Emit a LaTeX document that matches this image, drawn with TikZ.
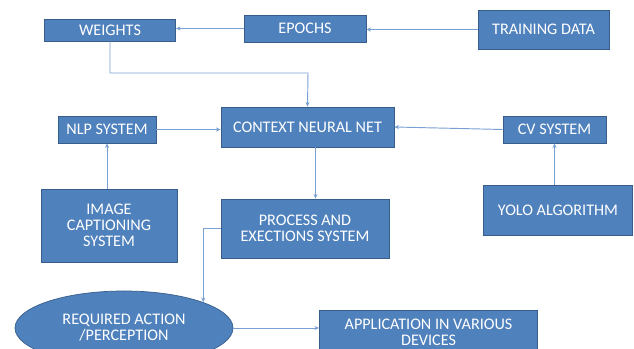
\documentclass[tikz,border=0pt]{standalone}
\usepackage{fontspec}
\setmainfont{Carlito}
\usepackage{xcolor}
\definecolor{boxfill}{HTML}{4F81BD}
\definecolor{boxline}{HTML}{385D8A}
\definecolor{linkblue}{HTML}{79A0D3}
\usetikzlibrary{shapes.geometric, arrows.meta, positioning}

\begin{document}
\begin{tikzpicture}[
        x=0.03cm, y=-0.03cm,
        block/.style={
            rectangle,
            draw=boxline,
            line width=0.6pt,
            fill=boxfill,
            text=white,
            align=center,
            inner sep=0pt,
            font=\fontsize{13.8}{13.6}\selectfont
        },
        oval/.style={
            block,
            ellipse
        },
        link/.style={
            -{Stealth[length=4pt, width=3.5pt]},
            draw=linkblue,
            line width=0.8pt
        }
    ]

    \useasboundingbox (0,0) rectangle (634,349);

    % Nodes
    \node[block, minimum width=3.93cm, minimum height=0.66cm] (weights) at (110,30) {WEIGHTS};
    \node[block, minimum width=3.66cm, minimum height=0.81cm] (epochs) at (305,28.5) {EPOCHS};
    \node[block, minimum width=3.93cm, minimum height=1.17cm] (train) at (543.5,29.5) {TRAINING DATA};
    \node[block, minimum width=5.19cm, minimum height=1.2cm] (context) at (307.5,127) {CONTEXT NEURAL NET};
    \node[block, minimum width=2.94cm, minimum height=0.81cm] (nlp) at (107,129.5) {NLP SYSTEM};
    \node[block, minimum width=3.09cm, minimum height=0.81cm] (cv) at (554.5,129.5) {CV SYSTEM};
    \node[block, minimum width=4.08cm, minimum height=2.19cm] (imgcap) at (109,225.5) {IMAGE\\CAPTIONING\\SYSTEM};
    \node[block, minimum width=5.04cm, minimum height=1.77cm] (process) at (305,228.5) {PROCESS AND\\EXECTIONS SYSTEM};
    \node[block, minimum width=4.47cm, minimum height=1.5cm] (yolo) at (558,210) {YOLO ALGORITHM};
    \node[oval, minimum width=6.54cm, minimum height=2.22cm] (action) at (124,328) {REQUIRED ACTION\\/PERCEPTION};
    \node[block, minimum width=6.54cm, minimum height=1.32cm] (app) at (428.5,332) {APPLICATION IN VARIOUS\\DEVICES};

    \coordinate (bend) at (308,73);

    % Arrows
    \draw[link] (train.west) -- (train.west -| epochs.east);
    \draw[link] (epochs.west) -- (epochs.west -| weights.east);
    \draw[link] (weights.south) |- (bend) -- (context.north);
    \draw[link] (nlp.east) -- (nlp.east -| context.west);
    \draw[link] (cv.west) -- (context.east);
    \draw[link] (imgcap.north -| nlp.south) -- (nlp.south);
    \draw[link] (yolo.north -| cv.south) -- (cv.south);
    \draw[link] ([xshift=0.24cm]context.south) -- ([xshift=0.24cm]context.south |- process.north);
    \draw[link] (process.west) -| (action.18);
    \draw[link] (action.east) -- (action.east -| app.west);

\end{tikzpicture}
\end{document}
